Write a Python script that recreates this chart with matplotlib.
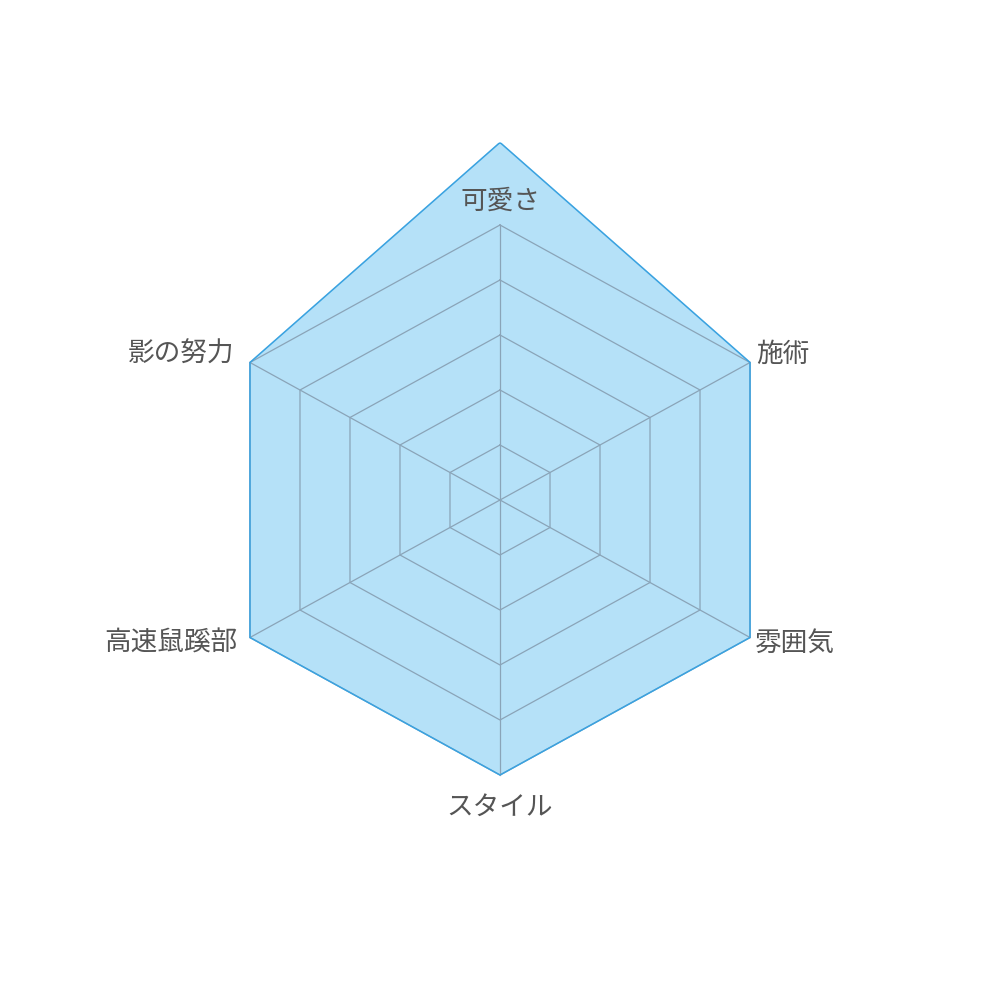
import numpy as np
import matplotlib
matplotlib.use("Agg")
import matplotlib.pyplot as plt

plt.rcParams['font.family'] = ['Noto Sans CJK JP', 'DejaVu Sans']

labels = ["可愛さ", "施術", "雰囲気", "スタイル", "高速鼠蹊部", "影の努力"]
values = [6.5, 5, 5, 5, 5, 5]
levels = [1, 2, 3, 4, 5]
rmax = 6.5

# label offsets in pixels from the outer ring vertex, plus alignment
label_offsets = [(0, 24), (6, 8), (5, -6), (0, -32), (-13, -6), (-16, 8)]
label_ha = ["center", "left", "left", "center", "right", "right"]

fill_color = "#b5e1f8"
edge_color = "#3aa2e0"
grid_color = "#8aa4b8"
text_color = "#555555"

n = len(labels)
theta = np.arange(n) * 2 * np.pi / n
theta_c = np.append(theta, theta[0])

fig = plt.figure(figsize=(10, 10), dpi=100)
# slightly wider than tall, like the reference
ax = fig.add_axes([0.1247, 0.1425, 0.7506, 0.715], projection="polar")
ax.set_aspect("auto")
ax.set_theta_zero_location("N")
ax.set_theta_direction(-1)
ax.set_ylim(0, rmax)
ax.grid(False)
ax.spines["polar"].set_visible(False)
ax.set_xticks([])
ax.set_yticks([])
ax.patch.set_alpha(0)

v = np.append(values, values[0])
ax.fill(theta_c, v, color=fill_color, zorder=1)
ax.plot(theta_c, v, color=edge_color, lw=1.1, zorder=3)

for lv in levels:
    ax.plot(theta_c, [lv] * (n + 1), color=grid_color, lw=0.9, zorder=2)
for t in theta:
    ax.plot([t, t], [0, levels[-1]], color=grid_color, lw=0.9, zorder=2)

for t, lab, off, ha in zip(theta, labels, label_offsets, label_ha):
    ax.annotate(lab, xy=(t, levels[-1]), xytext=off, textcoords="offset pixels",
                ha=ha, va="center", fontsize=19.2, color=text_color,
                annotation_clip=False, zorder=4)

fig.savefig("out.png", dpi=100, facecolor="white")
